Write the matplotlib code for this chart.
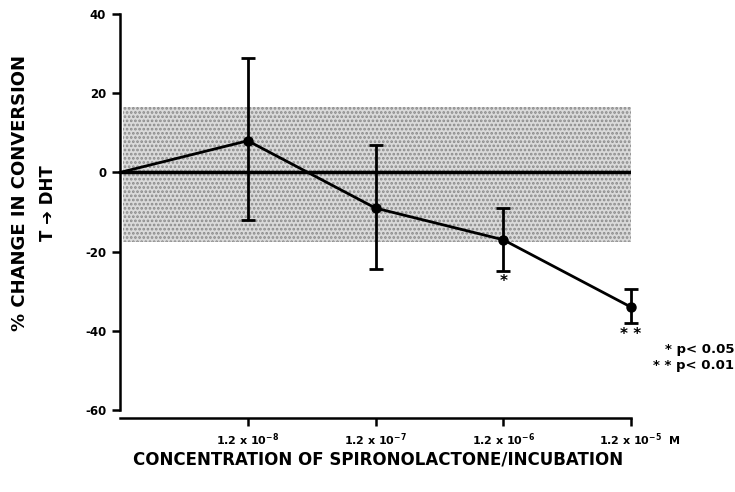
"""
Spironolactone: % change in T -> DHT conversion vs concentration
"""
import numpy as np
import matplotlib.pyplot as plt

plt.rcParams['font.family'] = ['DejaVu Sans']
plt.rcParams['font.weight'] = 'bold'
plt.rcParams['mathtext.default'] = 'bf'
plt.rcParams['hatch.linewidth'] = 1.3

# data
conc_pos = [0, 1, 2, 3, 4]
change = [0, 8, -9, -17, -34]
err_hi = [0, 29, 7, -9, -29.5]
err_lo = [0, -12, -24.5, -25, -38]
tick_labels = ['1.2 x 10$^{-8}$', '1.2 x 10$^{-7}$', '1.2 x 10$^{-6}$', '1.2 x 10$^{-5}$']
band_lo, band_hi = -17.5, 16.5
sig_marks = [(3, -27.5, '*'), (4, -41, '* *')]

x = np.array(conc_pos)
y = np.array(change)
yerr = np.vstack([y - np.array(err_lo), np.array(err_hi) - y])

fig = plt.figure(figsize=(7.35, 4.92), dpi=100)
ax = fig.add_axes([0.1633, 0.1504, 0.6952, 0.8211])

# stippled normal range band
ax.fill_between([0.02, 4.02], band_lo, band_hi, facecolor='#dadada',
                edgecolor='#8a8a8a', hatch='....', linewidth=0, zorder=1)
ax.plot([0, 4], [0, 0], color='black', lw=2.5, zorder=2)

ax.errorbar(x[1:], y[1:], yerr=yerr[:, 1:], fmt='none', ecolor='black',
            elinewidth=2, capsize=5, capthick=2, zorder=3, clip_on=False)
ax.plot(x, y, color='black', lw=2, zorder=4, clip_on=False)
ax.plot(x[1:], y[1:], 'o', color='black', ms=6.5, zorder=5, clip_on=False)

for xs, ys, s in sig_marks:
    ax.text(xs, ys, s, ha='center', va='center', fontsize=11)

ax.set_xlim(0, 4.0)
ax.set_ylim(-62, 40)
ax.spines['top'].set_visible(False)
ax.spines['right'].set_visible(False)
ax.spines['left'].set_bounds(-60, 40)
ax.spines['left'].set_linewidth(1.8)
ax.spines['bottom'].set_linewidth(1.8)
ax.set_yticks([40, 20, 0, -20, -40, -60])
ax.set_yticklabels(['40', '20', '0', '-20', '-40', '-60'], fontsize=8.5, fontweight='bold')
ax.set_xticks([1, 2, 3, 4])
ax.set_xticklabels(tick_labels, fontsize=8, fontweight='bold')
ax.tick_params(axis='both', direction='out', length=6, width=1.8, pad=4)
ax.text(4.3, -66.5, 'M', ha='left', va='top', fontsize=8, fontweight='bold',
        clip_on=False)

fig.text(0.999, 1 - 350/492, '* p< 0.05', ha='right', va='center', fontsize=9.5, fontweight='bold')
fig.text(0.999, 1 - 365/492, '* * p< 0.01', ha='right', va='center', fontsize=9.5, fontweight='bold')

fig.text(0.027, 1 - 193/492, '% CHANGE IN CONVERSION', rotation=90, ha='center',
         va='center', fontsize=13, fontweight='bold')
fig.text(0.065, 1 - 203/492, 'T \u2794 DHT', rotation=90, ha='center',
         va='center', fontsize=12, fontweight='bold')
fig.text(0.514, 1 - 460/492, 'CONCENTRATION OF SPIRONOLACTONE/INCUBATION',
         ha='center', va='center', fontsize=12, fontweight='bold')

plt.savefig('out.png', dpi=100)
